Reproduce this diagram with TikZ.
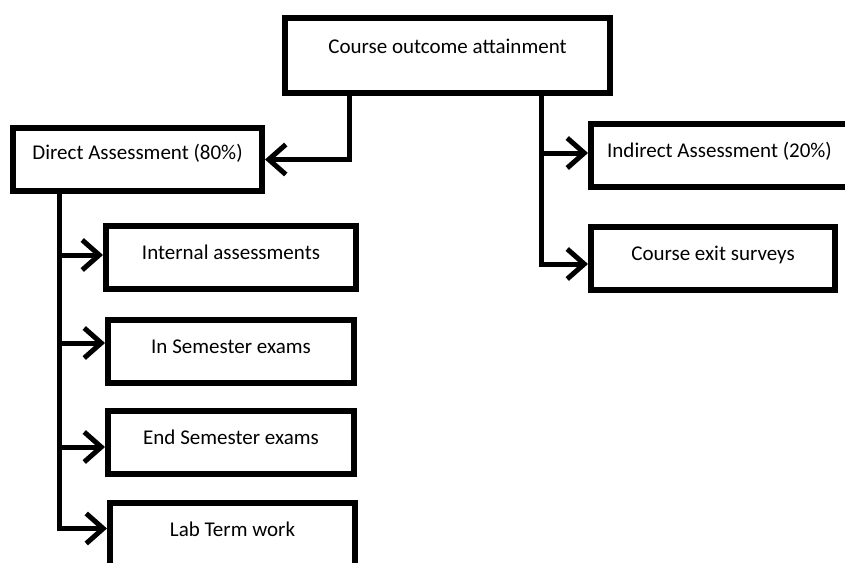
\documentclass[tikz,border=0pt]{standalone}
\usepackage{fontspec}
\setmainfont{Carlito}
\usetikzlibrary{arrows.meta,positioning}
\tikzset{
  every node/.style={
    font=\fontsize{21}{25}\selectfont
  },
  box/.style={
    shape=rectangle,
    draw=black,
    line width=6pt,
    inner sep=0pt,
    outer sep=3pt,
    minimum width=#1,
    text height=33pt,
    text depth=30pt,
    anchor=north west
  },
  titlebox/.style={
    box=325pt,
    text height=35pt,
    text depth=40pt
  },
  link/.style={
    line width=5pt,
    -{Straight Barb[length=17pt,width=30pt]}
  }
}
\begin{document}
\begin{tikzpicture}[x=1pt,y=-1pt]
  \useasboundingbox (0,0) rectangle (845,562);
  \node [titlebox] (course) at (282,15) {Course outcome attainment};
  \node [box=249pt, text height=31pt, text depth=32pt] (direct) at (10,125) {Direct Assessment (80\%)};
  \node [box=257pt] (indirect) at (588,121) {Indirect Assessment (20\%)};
  \node [box=244pt] (exit) at (588,224) {Course exit surveys};
  \node [box=250pt] (internal) at (103,223) {Internal assessments};
  \node [box=246pt] (insem) at (105,317) {In Semester exams};
  \node [box=246pt] (endsem) at (105,408) {End Semester exams};
  \node [box=245pt, text depth=33pt] (lab) at (107,500) {Lab Term work};

  % trunks
  \coordinate (course-l) at ([xshift=67pt]course.south west);
  \coordinate (course-r) at ([xshift=259pt]course.south west);
  \coordinate (direct-t) at ([xshift=49pt]direct.south west);

  \draw [link] (course-l) |- (direct.east);

  \coordinate (indirect-in) at ([yshift=2.5pt]indirect.west);
  \coordinate (exit-in) at ([yshift=-5.5pt]exit.west);
  \draw [link] (course-r) |- (exit-in);
  \draw [link] (course-r |- indirect-in) -- (indirect-in);

  \foreach \n/\s in {internal/2.5, insem/8.5, endsem/-4.5, lab/7.5}
    \coordinate (\n-in) at ([yshift=\s pt]\n.west);
  \draw [link] (direct-t) |- (lab-in);
  \foreach \n in {internal, insem, endsem}
    \draw [link] (direct-t |- \n-in) -- (\n-in);
\end{tikzpicture}
\end{document}
